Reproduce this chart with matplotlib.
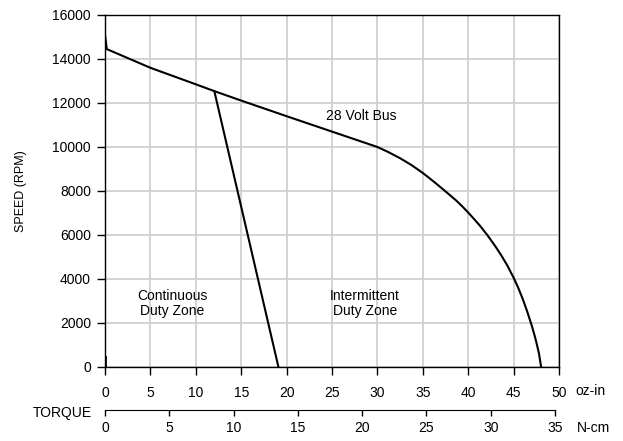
import numpy as np
import matplotlib
matplotlib.use("Agg")
import matplotlib.pyplot as plt

plt.rcParams['font.family'] = ['Liberation Sans', 'DejaVu Sans']
plt.rcParams['font.size'] = 10

# 28 volt bus speed/torque curve (oz-in, rpm)
bus_torque = [0.0, 0.2, 5.0, 10.0, 12.04, 15.0, 20.0, 25.0, 30.0,
              31.2, 32.5, 33.75, 35.0, 36.2, 37.45, 38.7, 39.35, 40.0,
              40.7, 41.3, 42.1, 43.0, 43.65, 44.3, 45.0, 45.5, 46.0,
              46.5, 47.0, 47.3, 47.55, 47.8, 48.03]
bus_speed = [15100, 14450, 13600, 12850, 12540, 12110, 11400, 10700, 10000,
             9770, 9490, 9180, 8820, 8430, 8000, 7560, 7300, 7020,
             6700, 6420, 6000, 5480, 5070, 4620, 4060, 3610, 3100,
             2520, 1880, 1450, 1050, 600, 0]

# continuous duty boundary
cont_torque = [12.04, 19.1]
cont_speed = [12540, 0]

x_ticks = [0, 5, 10, 15, 20, 25, 30, 35, 40, 45, 50]
y_ticks = [0, 2000, 4000, 6000, 8000, 10000, 12000, 14000, 16000]
ncm_ticks = [0, 5, 10, 15, 20, 25, 30, 35]
OZIN_PER_NCM = 1.41612

fig = plt.figure(figsize=(6.23, 4.41), dpi=100)
ax = fig.add_axes([105 / 623, 1 - 367 / 441, 454 / 623, 352 / 441])

ax.plot(bus_torque, bus_speed, color='black', lw=1.5, solid_joinstyle='round')
ax.plot(cont_torque, cont_speed, color='black', lw=1.5)
ax.plot([0, 0], [0, 450], color='black', lw=2)

ax.set_xlim(0, 50)
ax.set_ylim(0, 16000)
ax.set_xticks(x_ticks)
ax.set_yticks(y_ticks)
ax.grid(True, color='#d0d0d0', lw=1.3)
ax.set_axisbelow(True)
for s in ax.spines.values():
    s.set_linewidth(1.0)
ax.tick_params(axis='y', direction='out', length=6, width=1, pad=4, labelsize=10)
ax.tick_params(axis='x', direction='out', length=5.5, width=1, pad=8, labelsize=10)
ax.set_ylabel('SPEED (RPM)', fontsize=9, labelpad=18)

sec = ax.secondary_xaxis('bottom', functions=(lambda x: x / OZIN_PER_NCM,
                                              lambda x: x * OZIN_PER_NCM))
sec.spines['bottom'].set_position(('outward', 31))
sec.spines['bottom'].set_bounds(0, 35)
sec.set_xticks(ncm_ticks)
sec.tick_params(direction='out', length=4, width=1, pad=4, labelsize=10)

ax.text(28.2, 11400, '28 Volt Bus', ha='center', va='center', fontsize=10)
ax.text(7.4, 2900, 'Continuous\nDuty Zone', ha='center', va='center', fontsize=10, linespacing=1.1)
ax.text(28.6, 2900, 'Intermittent\nDuty Zone', ha='center', va='center', fontsize=10, linespacing=1.1)

fig.text(575 / 623, 1 - 391 / 441, 'oz-in', ha='left', va='center', fontsize=10)
fig.text(577 / 623, 1 - 428 / 441, 'N-cm', ha='left', va='center', fontsize=10)
fig.text(92 / 623, 1 - 413 / 441, 'TORQUE', ha='right', va='center', fontsize=10)

fig.savefig('out.png', dpi=100)
